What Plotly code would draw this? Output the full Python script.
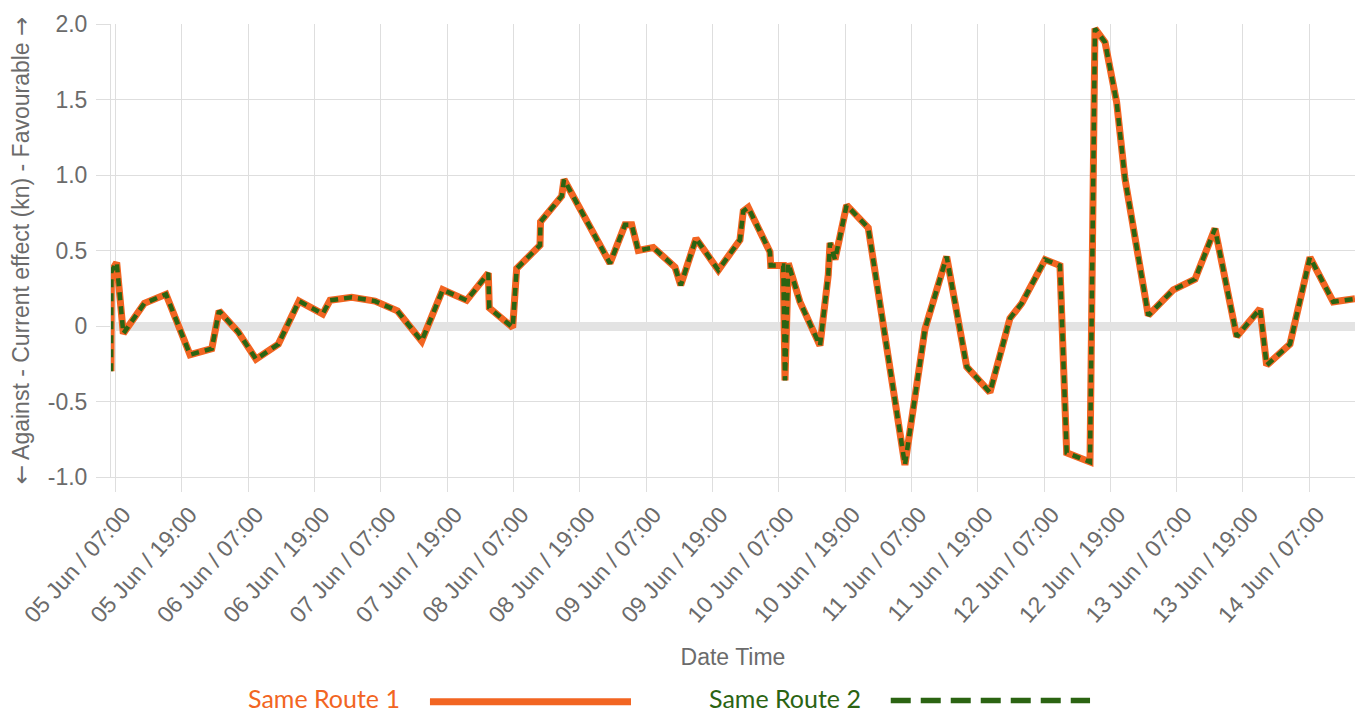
import plotly.graph_objects as go

# ---- data ----
times = [
    "2024-06-05 06:11", "2024-06-05 06:15", "2024-06-05 07:13", "2024-06-05 08:25",
    "2024-06-05 12:13", "2024-06-05 16:08", "2024-06-05 20:29", "2024-06-06 00:25",
    "2024-06-06 01:44", "2024-06-06 05:13", "2024-06-06 08:25", "2024-06-06 12:28",
    "2024-06-06 16:12", "2024-06-06 20:29", "2024-06-06 21:49", "2024-06-07 01:44",
    "2024-06-07 05:57", "2024-06-07 10:00", "2024-06-07 14:24", "2024-06-07 18:12",
    "2024-06-07 22:32", "2024-06-08 02:27", "2024-06-08 02:38", "2024-06-08 06:52",
    "2024-06-08 07:35", "2024-06-08 11:48", "2024-06-08 11:54", "2024-06-08 15:44",
    "2024-06-08 16:09", "2024-06-08 20:51", "2024-06-09 00:28", "2024-06-09 03:11",
    "2024-06-09 04:24", "2024-06-09 05:35", "2024-06-09 08:18", "2024-06-09 12:14",
    "2024-06-09 13:16", "2024-06-09 16:02", "2024-06-09 20:04", "2024-06-09 23:59",
    "2024-06-10 00:35", "2024-06-10 01:29", "2024-06-10 05:25", "2024-06-10 05:33",
    "2024-06-10 07:49", "2024-06-10 08:08", "2024-06-10 08:44", "2024-06-10 10:50",
    "2024-06-10 14:28", "2024-06-10 15:58", "2024-06-10 16:17", "2024-06-10 17:11",
    "2024-06-10 19:17", "2024-06-10 23:12", "2024-06-11 05:50", "2024-06-11 09:28",
    "2024-06-11 13:23", "2024-06-11 17:01", "2024-06-11 21:13", "2024-06-12 00:50",
    "2024-06-12 02:58", "2024-06-12 07:11", "2024-06-12 09:53", "2024-06-12 11:06",
    "2024-06-12 15:19", "2024-06-12 16:13", "2024-06-12 18:02", "2024-06-12 20:09",
    "2024-06-12 21:39", "2024-06-13 01:52", "2024-06-13 06:23", "2024-06-13 10:19",
    "2024-06-13 13:56", "2024-06-13 17:52", "2024-06-13 22:05", "2024-06-13 23:17",
    "2024-06-14 03:30", "2024-06-14 07:07", "2024-06-14 11:20", "2024-06-14 15:16",
]

route_1_values = [
    -0.30, 0.36, 0.42, -0.05,
    0.15, 0.21, -0.19, -0.15,
    0.10, -0.04, -0.22, -0.12,
    0.165, 0.08, 0.17, 0.19,
    0.165, 0.10, -0.10, 0.24,
    0.17, 0.35, 0.12, -0.01,
    0.38, 0.535, 0.69, 0.86,
    0.97, 0.65, 0.415, 0.67,
    0.67, 0.50, 0.52, 0.39,
    0.27, 0.58, 0.37, 0.57,
    0.76, 0.785, 0.49, 0.40,
    0.40, -0.36, 0.415, 0.16,
    -0.13, 0.34, 0.55, 0.44,
    0.80, 0.65, -0.92, -0.02,
    0.46, -0.27, -0.44, 0.05,
    0.15, 0.44, 0.40, -0.84,
    -0.90, 1.97, 1.88, 1.48,
    0.975, 0.07, 0.24, 0.31,
    0.645, -0.07, 0.115, -0.26,
    -0.12, 0.455, 0.16, 0.18,
]

route_2_values = [
    -0.30, 0.36, 0.42, -0.05,
    0.15, 0.21, -0.19, -0.15,
    0.10, -0.04, -0.22, -0.12,
    0.165, 0.08, 0.17, 0.19,
    0.165, 0.10, -0.10, 0.24,
    0.17, 0.35, 0.12, -0.01,
    0.38, 0.535, 0.69, 0.86,
    0.97, 0.65, 0.415, 0.67,
    0.67, 0.50, 0.52, 0.39,
    0.27, 0.58, 0.37, 0.57,
    0.76, 0.785, 0.49, 0.40,
    0.40, -0.36, 0.415, 0.16,
    -0.13, 0.34, 0.55, 0.44,
    0.80, 0.65, -0.92, -0.02,
    0.46, -0.27, -0.44, 0.05,
    0.15, 0.44, 0.40, -0.84,
    -0.90, 1.97, 1.88, 1.48,
    0.975, 0.07, 0.24, 0.31,
    0.645, -0.07, 0.115, -0.26,
    -0.12, 0.455, 0.16, 0.18,
]

x_tick_values = [
    "2024-06-05 07:00", "2024-06-05 19:00", "2024-06-06 07:00", "2024-06-06 19:00",
    "2024-06-07 07:00", "2024-06-07 19:00", "2024-06-08 07:00", "2024-06-08 19:00",
    "2024-06-09 07:00", "2024-06-09 19:00", "2024-06-10 07:00", "2024-06-10 19:00",
    "2024-06-11 07:00", "2024-06-11 19:00", "2024-06-12 07:00", "2024-06-12 19:00",
    "2024-06-13 07:00", "2024-06-13 19:00", "2024-06-14 07:00",
]
x_tick_labels = [
    "05 Jun / 07:00", "05 Jun / 19:00", "06 Jun / 07:00", "06 Jun / 19:00",
    "07 Jun / 07:00", "07 Jun / 19:00", "08 Jun / 07:00", "08 Jun / 19:00",
    "09 Jun / 07:00", "09 Jun / 19:00", "10 Jun / 07:00", "10 Jun / 19:00",
    "11 Jun / 07:00", "11 Jun / 19:00", "12 Jun / 07:00", "12 Jun / 19:00",
    "13 Jun / 07:00", "13 Jun / 19:00", "14 Jun / 07:00",
]
y_tick_values = [-1.0, -0.5, 0, 0.5, 1.0, 1.5, 2.0]
y_tick_labels = ["-1.0", "-0.5", "0", "0.5", "1.0", "1.5", "2.0"]

series_names = ["Same Route 1", "Same Route 2"]

ORANGE = "#F26522"
GREEN = "#2B6412"
GRID = "#dedede"
AXIS_FONT = "Liberation Sans, Arial, sans-serif"
TICKFONT = dict(family=AXIS_FONT, size=23, color="#6b6b6b")
TITLEFONT = dict(family=AXIS_FONT, size=23, color="#6b6b6b")

ARROW = "<span style='font-family:DejaVu Sans'>{}</span>"
y_title = ARROW.format("\u2190") + " Against - Current effect (kn) - Favourable " + ARROW.format("\u2192")

fig = go.Figure()
fig.add_trace(go.Scatter(
    x=times, y=route_1_values, mode="lines", name=series_names[0],
    line=dict(color=ORANGE, width=7), showlegend=False,
))
fig.add_trace(go.Scatter(
    x=times, y=route_2_values, mode="lines", name=series_names[1],
    line=dict(color=GREEN, width=4.5, dash="8px,6px"), showlegend=False,
))

# the page body has an 8px margin, so the figure is sized/offset to compensate
fig.update_layout(
    width=1355, height=705,
    margin=dict(l=103, r=8, t=16, b=236),
    paper_bgcolor="white", plot_bgcolor="white",
    showlegend=False,
)
fig.update_xaxes(
    automargin=False,
    range=[times[0], times[-1]],
    tickmode="array", tickvals=x_tick_values, ticktext=x_tick_labels,
    tickangle=-48, tickfont=TICKFONT, ticklabelshift=8,
    showgrid=True, gridcolor=GRID, gridwidth=1,
    ticks="outside", ticklen=14, tickcolor=GRID, tickwidth=1,
    showline=True, linecolor=GRID, linewidth=1,
    zeroline=False,
    title=dict(text="Date Time", font=TITLEFONT, standoff=22),
)
fig.update_yaxes(
    automargin=False,
    range=[-1.0, 2.0],
    tickmode="array", tickvals=y_tick_values, ticktext=y_tick_labels,
    tickfont=TICKFONT, ticklabelstandoff=4,
    showgrid=True, gridcolor=GRID, gridwidth=1,
    ticks="outside", ticklen=14, tickcolor=GRID, tickwidth=1,
    showline=True, linecolor=GRID, linewidth=1,
    zeroline=True, zerolinecolor="#e3e3e3", zerolinewidth=9,
    title=dict(text=y_title, font=TITLEFONT, standoff=13),
)

# custom legend: text first, line sample after (paper coords)
LEGEND_FONT = "Lato, Noto Sans, sans-serif"
text_y = -0.4874
fig.add_annotation(x=0.1085, y=text_y, xref="paper", yref="paper", text=series_names[0],
                   showarrow=False, xanchor="left", yanchor="middle",
                   font=dict(family=LEGEND_FONT, size=25, color=ORANGE))
fig.add_shape(type="line", xref="paper", yref="paper", x0=0.2564, x1=0.418, y0=-0.496, y1=-0.496,
              line=dict(color=ORANGE, width=7))
fig.add_annotation(x=0.4789, y=text_y, xref="paper", yref="paper", text=series_names[1],
                   showarrow=False, xanchor="left", yanchor="middle",
                   font=dict(family=LEGEND_FONT, size=25, color=GREEN))
fig.add_shape(type="line", xref="paper", yref="paper", x0=0.6268, x1=0.787, y0=-0.4934, y1=-0.4934,
              line=dict(color=GREEN, width=5.7, dash="20px,10px"))

fig.write_html("out.html")
